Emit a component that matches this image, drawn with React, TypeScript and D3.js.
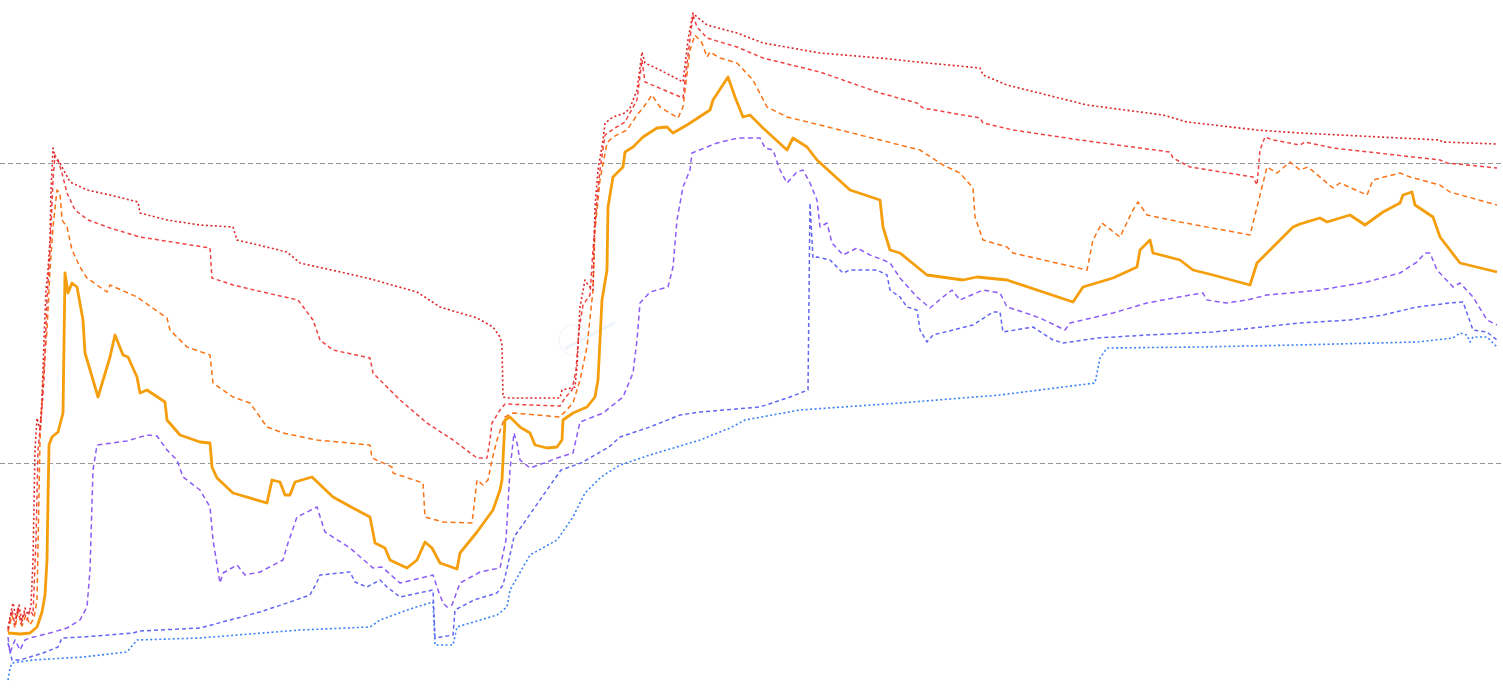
import React, { useEffect, useRef } from "react";
import * as d3 from "d3";

type Pt = [number, number];

const WIDTH = 1503;
const HEIGHT = 696;

const gridValues = [533, 233];

const redDotted: Pt[] = [[8,68],[11,84],[13,93],[16,78],[19,91],[22,74],[25,88],[28,81],[31,90],[33,136],[35,246],[37,278],[40,266],[42,296],[44,356],[46,406],[48,426],[50,456],[51,506],[53,548],[55,538],[60,533],[70,514],[87,506],[110,501],[138,494],[140,483],[167,476],[200,471],[233,469],[237,456],[250,453],[287,444],[300,433],[367,418],[417,404],[440,389],[477,378],[493,369],[500,359],[502,351],[503,299],[507,298],[560,298],[562,306],[575,309],[577,329],[580,389],[585,416],[588,411],[593,406],[595,489],[598,526],[603,556],[605,573],[613,579],[625,583],[630,588],[637,606],[642,644],[645,633],[660,626],[683,614],[688,656],[693,683],[697,679],[707,671],[737,663],[763,653],[820,643],[880,638],[917,634],[980,628],[983,621],[1007,611],[1047,601],[1087,591],[1163,581],[1187,574],[1257,566],[1300,563],[1440,556],[1442,554],[1497,552]];

const redDashed: Pt[] = [[8,66],[12,86],[15,71],[18,89],[21,72],[24,84],[27,76],[30,86],[33,81],[36,156],[38,246],[41,276],[44,316],[47,396],[50,446],[53,516],[55,541],[58,536],[62,523],[67,503],[75,486],[88,476],[110,468],[140,459],[210,448],[212,418],[233,411],[267,403],[298,396],[313,376],[320,356],[333,346],[370,338],[373,323],[400,296],[427,273],[453,256],[477,238],[487,238],[490,256],[492,273],[497,281],[500,286],[505,292],[560,290],[565,298],[572,306],[576,326],[579,366],[583,391],[590,401],[593,446],[597,496],[600,526],[605,561],[615,568],[625,574],[637,596],[642,636],[645,614],[683,598],[688,641],[693,681],[697,669],[707,658],[737,649],[763,638],[820,624],[880,603],[917,593],[923,588],[980,578],[983,573],[1013,566],[1080,556],[1170,544],[1173,538],[1190,529],[1253,519],[1257,511],[1260,546],[1265,559],[1273,556],[1300,551],[1305,554],[1333,548],[1440,536],[1447,533],[1497,528]];

const orangeDashed: Pt[] = [[8,64],[12,81],[15,68],[18,84],[22,70],[26,81],[30,71],[34,78],[37,96],[40,256],[43,316],[47,366],[50,426],[53,469],[57,506],[60,503],[62,476],[67,469],[72,446],[80,429],[87,418],[107,404],[110,411],[137,399],[167,378],[170,366],[187,349],[210,341],[213,313],[233,299],[250,293],[267,269],[283,263],[317,256],[370,251],[372,238],[392,229],[393,223],[423,213],[425,179],[443,174],[472,173],[477,216],[483,211],[488,216],[492,236],[497,256],[502,271],[505,279],[513,283],[560,279],[573,293],[580,316],[587,349],[593,406],[595,466],[600,516],[607,553],[613,559],[627,566],[637,581],[643,588],[652,601],[660,589],[678,578],[683,589],[690,646],[695,661],[702,653],[707,639],[710,644],[720,638],[737,633],[753,616],[767,589],[787,579],[820,571],[880,556],[920,546],[943,531],[960,523],[973,508],[975,479],[983,456],[1007,449],[1013,443],[1087,426],[1093,456],[1102,473],[1120,459],[1133,486],[1138,494],[1147,481],[1180,474],[1250,461],[1257,489],[1267,529],[1277,523],[1290,534],[1300,526],[1308,529],[1333,508],[1340,513],[1367,501],[1373,516],[1400,523],[1410,519],[1440,511],[1450,504],[1497,491]];

const orangeSolid: Pt[] = [[8,63],[20,62],[30,63],[37,69],[42,84],[45,101],[47,136],[48,196],[49,251],[52,259],[58,264],[63,283],[65,423],[68,403],[72,413],[77,409],[83,376],[85,343],[88,333],[98,299],[110,339],[115,361],[123,341],[128,339],[137,319],[140,303],[147,306],[165,294],[167,276],[180,261],[200,254],[210,253],[212,229],[217,218],[233,203],[267,193],[272,216],[280,214],[285,201],[290,201],[295,214],[312,219],[333,199],[353,188],[370,179],[375,153],[385,148],[390,136],[407,128],[417,136],[425,154],[432,148],[440,133],[457,127],[460,143],[477,164],[493,186],[500,206],[502,216],[505,276],[510,279],[520,269],[530,263],[535,251],[547,248],[557,249],[562,256],[563,276],[573,283],[587,289],[595,299],[598,316],[602,396],[607,426],[608,489],[613,519],[623,529],[625,544],[633,549],[643,559],[657,568],[667,569],[673,563],[687,571],[710,586],[713,596],[728,619],[735,599],[743,579],[750,581],[763,568],[787,546],[793,558],[807,549],[817,536],[850,506],[880,496],[883,469],[890,446],[900,443],[927,421],[963,416],[977,419],[1007,416],[1073,394],[1083,409],[1113,418],[1137,429],[1140,446],[1150,456],[1153,443],[1180,436],[1193,426],[1213,421],[1250,411],[1257,433],[1270,446],[1280,456],[1293,469],[1300,472],[1320,478],[1327,474],[1350,481],[1365,471],[1383,484],[1400,493],[1403,501],[1412,504],[1415,491],[1433,479],[1440,459],[1460,433],[1497,424]];

const purpleDashed: Pt[] = [[8,59],[10,43],[15,56],[20,46],[25,56],[30,58],[50,63],[67,68],[80,76],[87,89],[90,126],[93,226],[97,251],[127,255],[147,261],[157,260],[167,246],[177,236],[183,219],[200,206],[210,189],[213,156],[220,113],[223,123],[237,131],[245,121],[260,124],[283,136],[288,153],[297,179],[317,189],[325,164],[350,148],[373,128],[382,129],[400,113],[433,121],[438,106],[443,93],[447,89],[452,91],[460,113],[480,124],[500,128],[506,156],[510,226],[514,263],[517,253],[520,236],[530,228],[547,234],[557,238],[573,243],[580,274],[603,283],[623,299],[633,323],[637,356],[640,393],[650,404],[668,409],[673,429],[677,476],[683,509],[690,526],[692,543],[717,553],[738,558],[760,558],[765,548],[773,546],[780,526],[787,513],[797,524],[803,526],[810,513],[817,496],[820,469],[827,473],[832,453],[843,441],[857,448],[870,441],[883,436],[890,433],[900,418],[917,399],[930,388],[943,399],[952,406],[960,396],[983,406],[1000,403],[1007,389],[1023,384],[1040,378],[1065,366],[1070,373],[1113,383],[1147,393],[1190,401],[1203,403],[1207,396],[1227,393],[1247,396],[1267,401],[1300,404],[1320,406],[1367,414],[1400,423],[1417,434],[1425,443],[1430,443],[1437,426],[1453,409],[1460,413],[1473,399],[1487,376],[1497,371]];

const indigoDashed: Pt[] = [[8,53],[12,36],[20,36],[30,39],[43,43],[58,49],[62,58],[83,59],[133,63],[140,65],[200,68],[230,76],[260,84],[290,94],[310,101],[317,114],[320,121],[350,124],[355,114],[367,109],[380,116],[387,109],[400,99],[433,106],[435,58],[453,61],[455,86],[474,96],[497,103],[503,111],[506,123],[514,159],[526,176],[549,209],[561,226],[581,233],[609,249],[620,259],[650,269],[680,281],[700,284],[760,289],[790,299],[808,306],[810,493],[813,438],[817,439],[830,436],[843,423],[850,426],[877,426],[887,421],[890,406],[900,399],[907,389],[917,386],[920,366],[927,354],[933,361],[973,371],[993,384],[1000,384],[1003,364],[1033,369],[1053,356],[1063,353],[1097,358],[1147,361],[1213,364],[1253,368],[1300,373],[1350,376],[1383,381],[1417,389],[1450,393],[1463,394],[1473,366],[1487,364],[1497,356]];

const blueDotted: Pt[] = [[8,16],[10,28],[12,33],[33,36],[83,39],[127,44],[137,56],[200,58],[250,62],[300,66],[370,69],[380,76],[413,88],[433,94],[435,51],[453,51],[457,69],[497,81],[507,89],[510,106],[530,141],[557,156],[573,179],[585,203],[601,219],[620,231],[650,241],[700,256],[730,268],[745,276],[800,286],[900,293],[1000,301],[1095,313],[1100,338],[1107,348],[1200,349],[1297,351],[1417,354],[1453,358],[1460,363],[1467,361],[1470,354],[1473,359],[1487,359],[1497,349]];

const seriesList = [
  { name: "p0", data: blueDotted, color: "#3b82f6", width: 1.6, dash: "2,2.5" },
  { name: "p10", data: indigoDashed, color: "#6366f1", width: 1.5, dash: "4,3" },
  { name: "p25", data: purpleDashed, color: "#8b5cf6", width: 1.5, dash: "5,3.5" },
  { name: "p75", data: orangeDashed, color: "#f97316", width: 1.5, dash: "5,3.5" },
  { name: "p90", data: redDashed, color: "#ef4444", width: 1.5, dash: "4,3" },
  { name: "p100", data: redDotted, color: "#dc2626", width: 1.6, dash: "2,2.5" },
  { name: "p50", data: orangeSolid, color: "#f59e0b", width: 2.8, dash: null as string | null },
];

export default function App() {
  const ref = useRef<SVGSVGElement | null>(null);

  useEffect(() => {
    const svg = d3.select(ref.current);
    svg.selectAll("*").remove();

    const x = d3.scaleLinear().domain([0, WIDTH]).range([0, WIDTH]);
    const y = d3.scaleLinear().domain([0, HEIGHT]).range([HEIGHT, 0]);

    svg
      .append("rect")
      .attr("width", WIDTH)
      .attr("height", HEIGHT)
      .attr("fill", "#ffffff");

    svg
      .selectAll("line.grid")
      .data(gridValues)
      .enter()
      .append("line")
      .attr("class", "grid")
      .attr("x1", 0)
      .attr("x2", WIDTH)
      .attr("y1", (d) => y(d) + 0.5)
      .attr("y2", (d) => y(d) + 0.5)
      .attr("stroke", "#9a9a9a")
      .attr("stroke-width", 1)
      .attr("stroke-dasharray", "5,3");

    // faint watermark
    const wm = svg.append("g").attr("opacity", 0.12);
    wm.append("circle")
      .attr("cx", x(574))
      .attr("cy", y(356))
      .attr("r", 15)
      .attr("fill", "none")
      .attr("stroke", "#8aa0c0")
      .attr("stroke-width", 1.2);
    wm.append("path")
      .attr("d", `M${x(566)},${y(348)} L${x(614)},${y(373)}`)
      .attr("stroke", "#7aa6e0")
      .attr("stroke-width", 3)
      .attr("stroke-linecap", "round");

    const line = d3
      .line<Pt>()
      .x((d) => x(d[0]))
      .y((d) => y(d[1]))
      .curve(d3.curveLinear);

    seriesList.forEach((s) => {
      svg
        .append("path")
        .datum(s.data)
        .attr("d", line)
        .attr("fill", "none")
        .attr("stroke", s.color)
        .attr("stroke-width", s.width)
        .attr("stroke-linejoin", "round")
        .attr("stroke-dasharray", s.dash ?? null);
    });
  }, []);

  return (
    <svg
      ref={ref}
      width={WIDTH}
      height={HEIGHT}
      style={{ position: "fixed", left: 0, top: 0, display: "block" }}
    />
  );
}
